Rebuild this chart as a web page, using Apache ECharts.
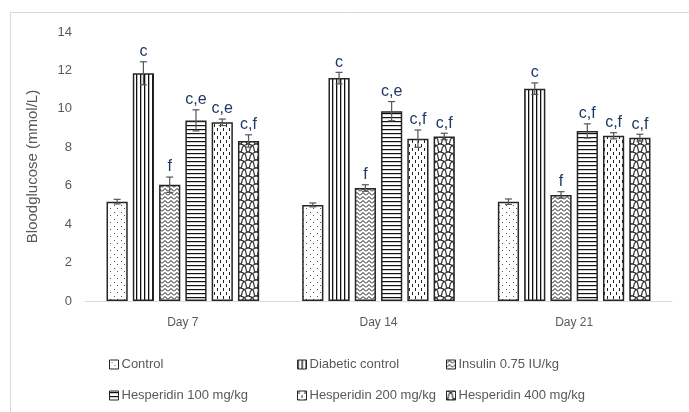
<!DOCTYPE html>
<html><head><meta charset="utf-8">
<script src="https://cdn.jsdelivr.net/npm/echarts@6/dist/echarts.min.js"></script>
<style>html,body{margin:0;padding:0;background:#fff}#c{width:689px;height:412px}</style>
</head><body><div id="c"></div>
<script>
const categories = ['Day 7', 'Day 14', 'Day 21'];
const seriesNames = ['Control', 'Diabetic control', 'Insulin 0.75 IU/kg', 'Hesperidin 100 mg/kg', 'Hesperidin 200 mg/kg', 'Hesperidin 400 mg/kg'];
const control = [5.17, 5.0, 5.17];
const diabetic = [11.85, 11.6, 11.05];
const insulin = [6.05, 5.88, 5.52];
const hesp100 = [9.4, 9.88, 8.85];
const hesp200 = [9.3, 8.45, 8.6];
const hesp400 = [8.33, 8.56, 8.5];
const controlErr = [0.12, 0.1, 0.14];
const diabeticErr = [0.6, 0.3, 0.3];
const insulinErr = [0.4, 0.17, 0.17];
const hesp100Err = [0.55, 0.5, 0.37];
const hesp200Err = [0.17, 0.45, 0.16];
const hesp400Err = [0.32, 0.17, 0.18];
const controlSig = ['', '', ''];
const diabeticSig = ['c', 'c', 'c'];
const insulinSig = ['f', 'f', 'f'];
const hesp100Sig = ['c,e', 'c,e', 'c,f'];
const hesp200Sig = ['c,e', 'c,f', 'c,f'];
const hesp400Sig = ['c,f', 'c,f', 'c,f'];
const yTicks = [0, 2, 4, 6, 8, 10, 12, 14];

const values = [control, diabetic, insulin, hesp100, hesp200, hesp400];
const errors = [controlErr, diabeticErr, insulinErr, hesp100Err, hesp200Err, hesp400Err];
const sigs = [controlSig, diabeticSig, insulinSig, hesp100Sig, hesp200Sig, hesp400Sig];

function tile(w, h, draw) {
  const c = document.createElement('canvas');
  c.width = w; c.height = h;
  const ctx = c.getContext('2d');
  ctx.fillStyle = '#fff'; ctx.fillRect(0, 0, w, h);
  ctx.strokeStyle = '#222'; ctx.fillStyle = '#333'; ctx.lineWidth = 1;
  draw(ctx);
  return { image: c, repeat: 'repeat' };
}
const patterns = [
  tile(7, 7, ctx => { ctx.fillStyle = '#555'; ctx.fillRect(2, 2, 1, 1); ctx.fillRect(5, 5, 1, 1); }),
  tile(4, 4, ctx => { ctx.fillStyle = '#111'; ctx.fillRect(0, 0, 1.3, 4); }),
  tile(6, 4, ctx => { ctx.strokeStyle = '#111'; ctx.beginPath(); ctx.moveTo(0, 3.5); ctx.lineTo(3, 0.5); ctx.lineTo(6, 3.5); ctx.stroke(); }),
  tile(4, 4, ctx => { ctx.fillStyle = '#111'; ctx.fillRect(0, 1, 4, 1.2); }),
  tile(6, 8, ctx => { ctx.fillStyle = '#222'; ctx.fillRect(1, 0, 1, 3); ctx.fillRect(4, 4, 1, 3); }),
  tile(8, 8, ctx => {
    ctx.lineWidth = 1.1;
    ctx.beginPath(); ctx.moveTo(0, 0); ctx.quadraticCurveTo(6, 1, 6, 5); ctx.quadraticCurveTo(6, 8, 8, 8); ctx.stroke();
    ctx.beginPath(); ctx.moveTo(8, 0); ctx.quadraticCurveTo(2, 2, 2, 5); ctx.quadraticCurveTo(2, 8, 0, 8); ctx.stroke();
  })
];

const CAT_GAP = 0.22, BAR_GAP = 0.24, N = 6;
function makeErr(si) {
  return {
    type: 'custom', name: 'err' + si, z: 5,
    data: categories.map((c, k) => [k, values[si][k], errors[si][k]]),
    renderItem: function (params, api) {
      const k = api.value(0), v = api.value(1), e = api.value(2);
      const band = api.size([1, 0])[0];
      const usable = band * (1 - CAT_GAP);
      const bw = usable / (N + (N - 1) * BAR_GAP);
      const total = bw * N + bw * BAR_GAP * (N - 1);
      const center = api.coord([k, v])[0];
      const x = center - total / 2 + si * bw * (1 + BAR_GAP) + bw / 2;
      const yTop = api.coord([k, v + e])[1];
      const yBot = api.coord([k, v - e])[1];
      const cap = 3.5;
      const st = { stroke: '#555', lineWidth: 1.2 };
      const children = [
        { type: 'line', shape: { x1: x, y1: yTop, x2: x, y2: yBot }, style: st },
        { type: 'line', shape: { x1: x - cap, y1: yTop, x2: x + cap, y2: yTop }, style: st },
        { type: 'line', shape: { x1: x - cap, y1: yBot, x2: x + cap, y2: yBot }, style: st }
      ];
      const t = sigs[si][params.dataIndex];
      if (t) children.push({ type: 'text', style: { text: t, x: x, y: yTop - 2, align: 'center', verticalAlign: 'bottom', fill: '#1f3864', font: '16px "Liberation Sans", sans-serif' } });
      return { type: 'group', children };
    }
  };
}

const bars = seriesNames.map((n, si) => ({
  type: 'bar', name: n, data: values[si],
  barCategoryGap: '22%', barGap: '24%',
  itemStyle: { color: patterns[si], borderColor: '#262626', borderWidth: 1.5 }
}));

const legendPos = [[104, 353], [292, 353], [441, 353], [104, 384], [292, 384], [441, 384]];
const legends = seriesNames.map((n, i) => ({
  data: [n], left: legendPos[i][0], top: legendPos[i][1], icon: 'rect', itemWidth: 9, itemHeight: 9, itemGap: 3,
  selectedMode: false,
  itemStyle: { borderColor: '#262626', borderWidth: 1 },
  textStyle: { color: '#595959', fontSize: 13, fontFamily: 'Liberation Sans', padding: [0, 0, 0, -2] }
}));

const chart = echarts.init(document.getElementById('c'));
chart.setOption({
  animation: false,
  backgroundColor: '#fff',
  graphic: [{ type: 'rect', left: 8, top: 10, shape: { width: 700, height: 420 }, style: { fill: 'none', stroke: '#d9d9d9', lineWidth: 1 }, silent: true }],
  grid: { left: 85, right: 17, top: 32, bottom: 111 },
  legend: legends,
  xAxis: {
    type: 'category', data: categories,
    axisLine: { lineStyle: { color: '#d9d9d9', width: 1 } },
    axisTick: { show: false },
    axisLabel: { color: '#595959', fontSize: 12, fontFamily: 'Liberation Sans', margin: 16 }
  },
  yAxis: {
    type: 'value', min: yTicks[0], max: yTicks[yTicks.length - 1], interval: 2,
    name: 'Bloodglucose (mmol/L)', nameLocation: 'middle', nameGap: 45, nameRotate: 90,
    nameTextStyle: { color: '#595959', fontSize: 15, fontFamily: 'Liberation Sans' },
    axisLine: { show: false }, axisTick: { show: false }, splitLine: { show: false },
    axisLabel: { color: '#595959', fontSize: 13, fontFamily: 'Liberation Sans', margin: 13 }
  },
  series: bars.concat(seriesNames.map((n, si) => makeErr(si)))
});
</script></body></html>
